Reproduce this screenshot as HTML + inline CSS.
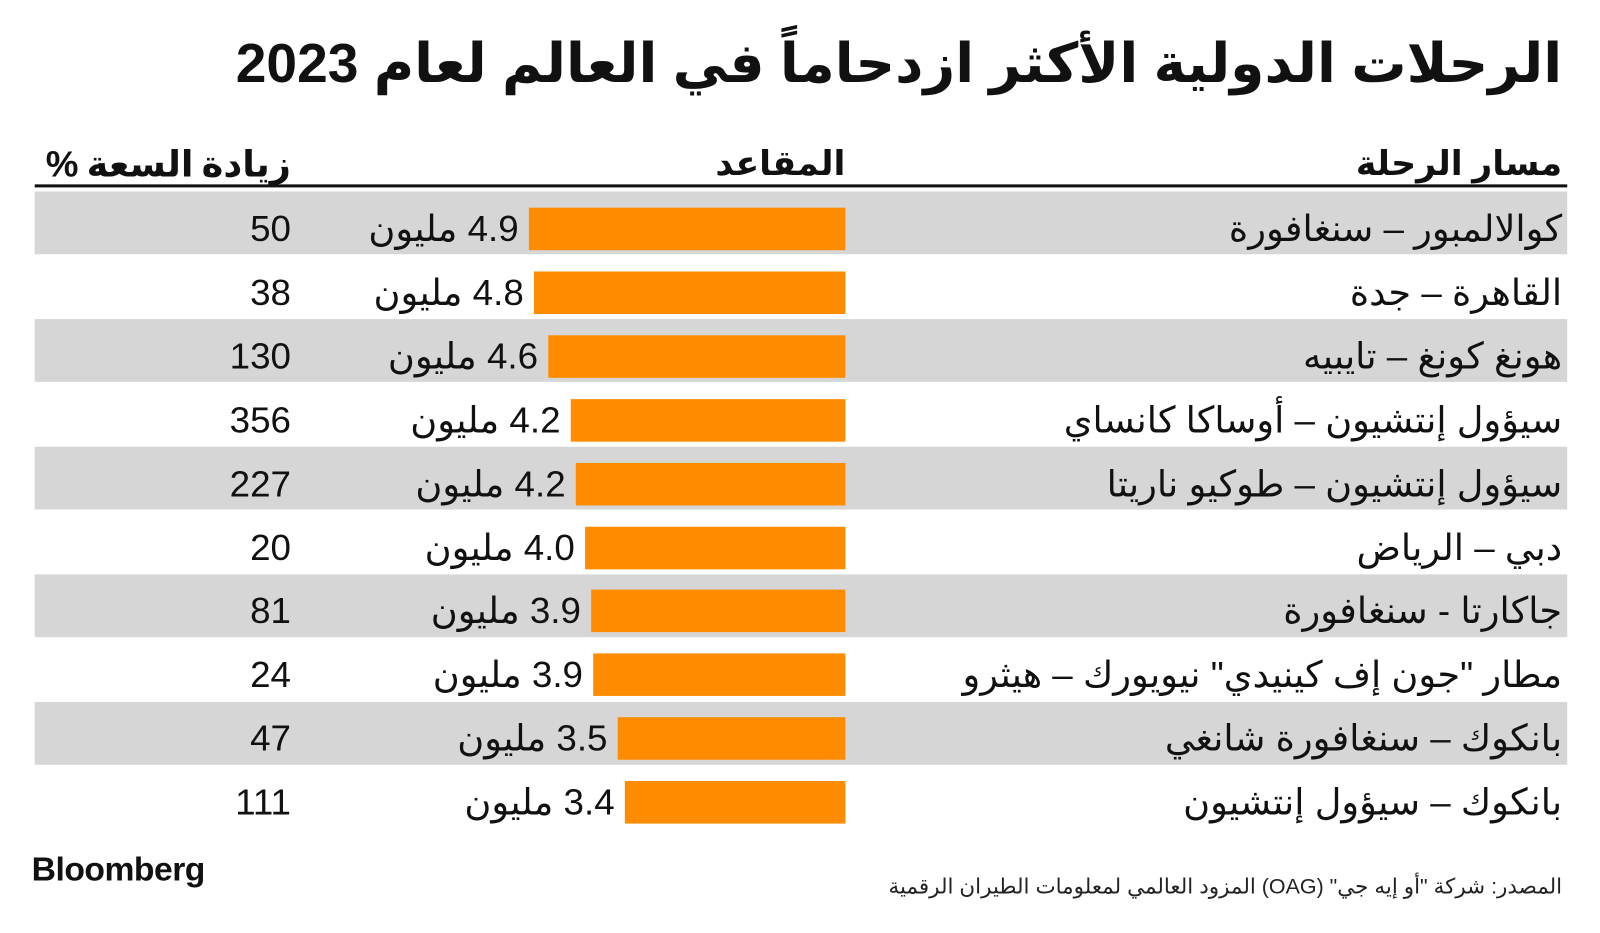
<!DOCTYPE html>
<html><head><meta charset="utf-8"><style>
body{margin:0;width:1600px;height:933px;background:#fff;position:relative;overflow:hidden;font-family:"Liberation Sans","Noto Sans CJK SC","DejaVu Sans",sans-serif;color:#111}
#w{position:absolute;left:0;top:0;width:1560px;height:910px;transform:scale(1.021,1.013);transform-origin:0 0}
.a{position:absolute;white-space:nowrap}
.r{direction:rtl}
.g{position:absolute;left:34px;width:1501px;height:62px;background:#d6d6d6}
.bar{position:absolute;background:#ff8c00;height:42px}
.t{font-size:36px;line-height:40px}
</style></head><body><div id="w">
<div class="a r" style="right:30px;top:28px;font-size:54px;font-weight:bold;line-height:70px">الرحلات الدولية الأكثر ازدحاماً في العالم لعام 2023</div>
<div class="a r" style="right:30px;top:140px;font-size:34px;font-weight:bold;line-height:44px">مسار الرحلة</div>
<div class="a r" style="right:732px;top:140px;font-size:34px;font-weight:bold;line-height:44px">المقاعد</div>
<div class="a r" style="right:1275px;top:140px;font-size:36px;font-weight:bold;line-height:44px;word-spacing:-2px">زيادة السعة %</div>
<div class="a" style="left:34px;top:182px;width:1501px;height:3px;background:#111"></div>
<div class="g" style="top:189px"></div>
<div class="g" style="top:315px"></div>
<div class="g" style="top:441px"></div>
<div class="g" style="top:567px"></div>
<div class="g" style="top:693px"></div>
<div id="rows"></div>
<div class="a" style="left:31px;top:838px;font-size:33px;font-weight:bold;line-height:40px;letter-spacing:-0.5px">Bloomberg</div>
<div class="a r" style="right:30px;top:862px;font-size:21px;line-height:28px;color:#222">المصدر: شركة "أو إيه جي" (OAG) المزود العالمي لمعلومات الطيران الرقمية</div>
</div>
<script>
var d=[["كوالالمبور – سنغافورة","4.9",518,"50"],["القاهرة – جدة","4.8",523,"38"],["هونغ كونغ – تايبيه","4.6",537,"130"],["سيؤول إنتشيون – أوساكا كانساي","4.2",559,"356"],["سيؤول إنتشيون – طوكيو ناريتا","4.2",564,"227"],["دبي – الرياض","4.0",573,"20"],["جاكارتا - سنغافورة","3.9",579,"81"],["مطار \"جون إف كينيدي\" نيويورك – هيثرو","3.9",581,"24"],["بانكوك – سنغافورة شانغي","3.5",605,"47"],["بانكوك – سيؤول إنتشيون","3.4",612,"111"]];
var h="";
d.forEach(function(x,i){var c=226+i*62.9;
h+='<div class="a r t" style="right:30px;top:'+(c-20)+'px">'+x[0]+'</div>';
h+='<div class="bar" style="left:'+x[2]+'px;width:'+(828-x[2])+'px;top:'+(c-21)+'px"></div>';
h+='<div class="a r t" style="right:'+(1560-x[2]+10)+'px;top:'+(c-20)+'px">'+x[1]+' مليون</div>';
h+='<div class="a t" style="right:1275px;top:'+(c-20)+'px">'+x[3]+'</div>';});
document.getElementById("rows").innerHTML=h;
</script>
</body></html>
